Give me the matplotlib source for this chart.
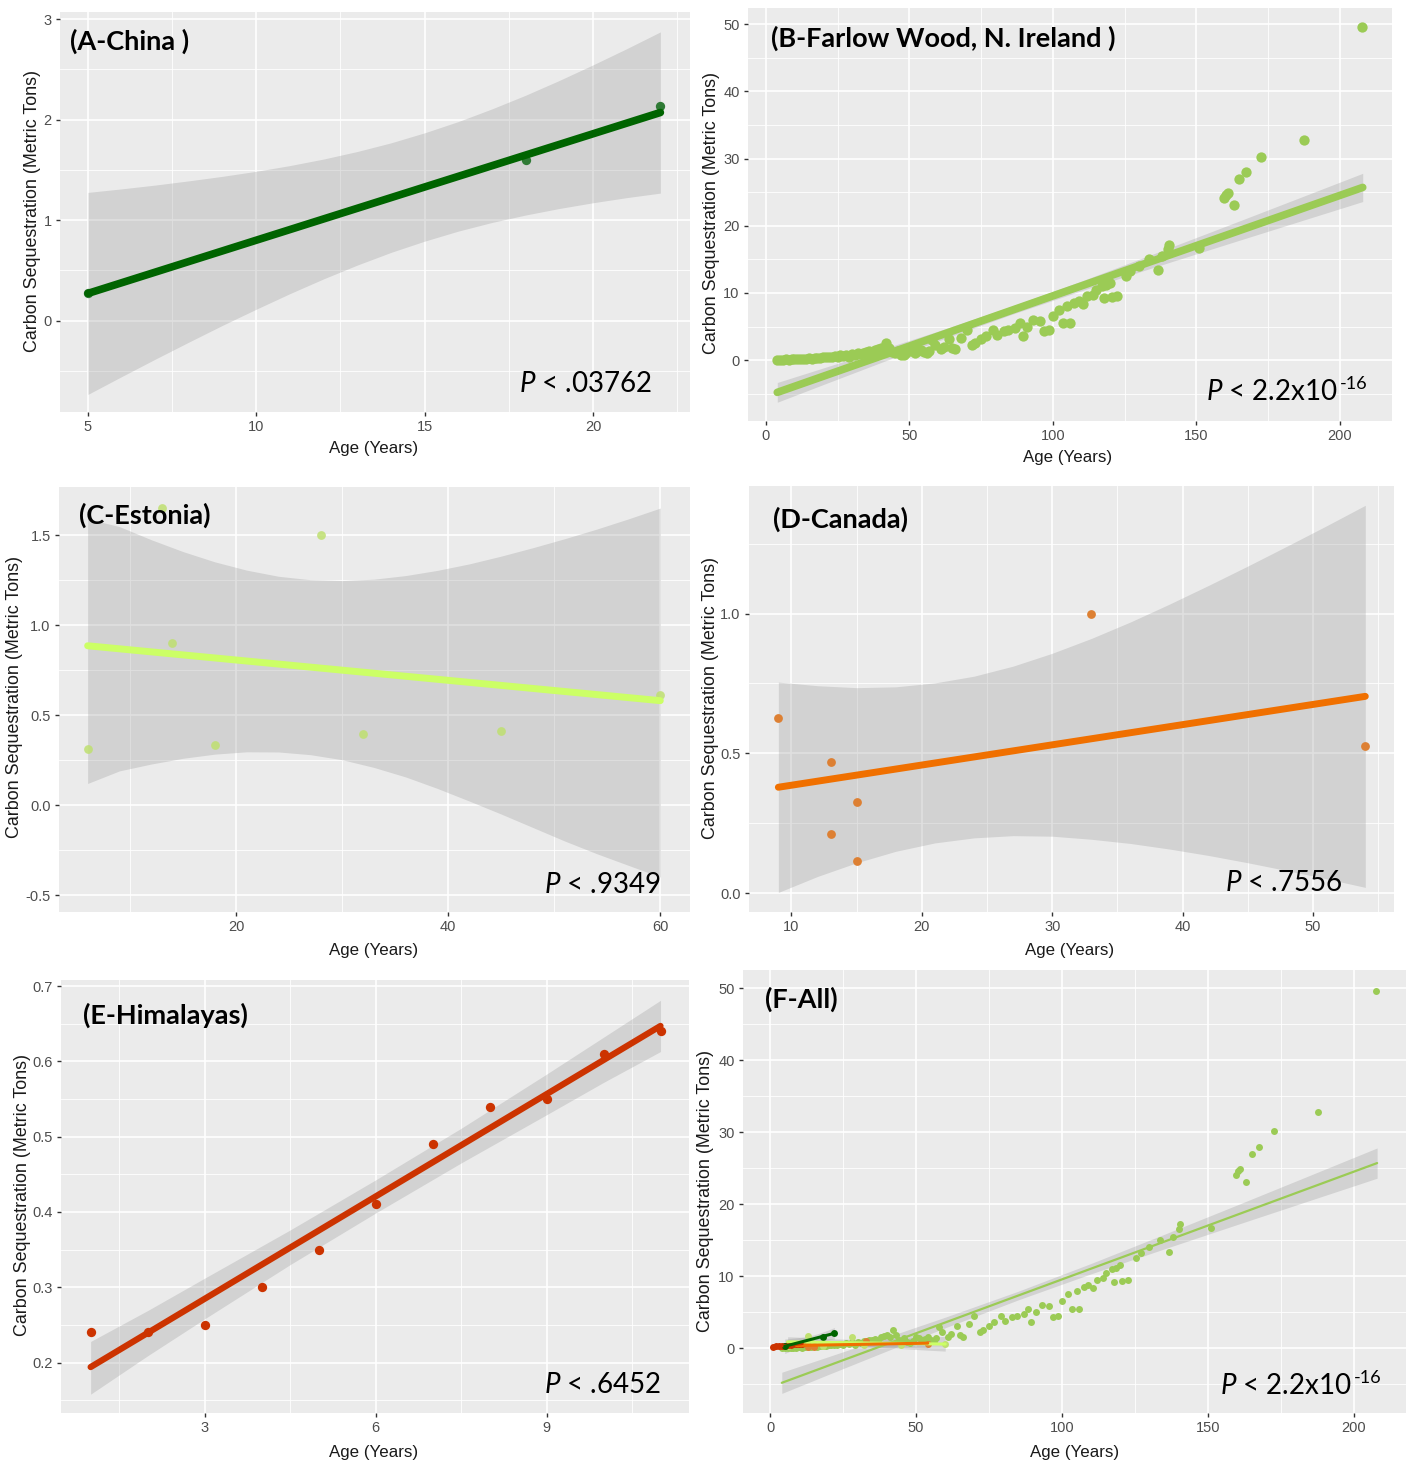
import numpy as np
import matplotlib
matplotlib.use('Agg')
import matplotlib.pyplot as plt

plt.rcParams['mathtext.fontset'] = 'custom'
plt.rcParams['mathtext.rm'] = 'Lato'
plt.rcParams['mathtext.it'] = 'Lato:italic'

W, H = 1411, 1464
NARROW = ['Liberation Sans Narrow', 'Liberation Sans', 'DejaVu Sans']
BG = '#EBEBEB'
RIB = '#999999'

# ---------------- data ----------------
# (A) China
china_x = [5, 18, 22]
china_y = [0.27, 1.60, 2.13]
china_fit_x = [5, 22]
china_fit_y = [0.27, 2.07]
china_rib_x = [5, 6, 7, 8, 9, 10, 11, 12, 13, 14, 15, 16, 17, 18, 19, 20, 21, 22]
china_rib_lo = [-0.735, -0.558, -0.384, -0.214, -0.047, 0.113, 0.268, 0.415, 0.552,
                0.678, 0.790, 0.890, 0.976, 1.050, 1.115, 1.172, 1.223, 1.268]
china_rib_hi = [1.275, 1.310, 1.348, 1.390, 1.435, 1.485, 1.542, 1.607, 1.682,
                1.768, 1.868, 1.980, 2.106, 2.242, 2.389, 2.544, 2.705, 2.872]

# (B) Farlow Wood, N. Ireland
farlow_x = [4, 5, 6, 7, 8, 9, 10, 11, 12, 13, 14, 15, 16, 17, 18, 19, 20, 21,
            22, 23, 24, 25, 26, 27, 28, 29, 30, 31, 32,
            33, 34, 35, 36, 37, 38, 39, 40,
            41, 42, 43, 44, 45, 46, 47, 48,
            49, 50, 51, 52, 53, 54, 55, 56, 57, 58, 59,
            61, 62, 64, 65, 66, 68, 70, 72, 73, 75, 76.6, 79, 80.5, 83, 84.5,
            87, 88.5, 89.5, 91, 93, 95.5, 97, 98.7, 100, 102, 103.5, 106, 105,
            107.5, 109, 110.5, 112, 114, 115, 117, 118.5, 120, 118, 120.5, 122.5,
            125.5, 127, 130, 133.5, 136.6, 138, 140, 140.6, 151, 159.5, 160.5,
            161, 163, 165, 167.5, 172.7, 187.7, 207.7]
farlow_y = [0.0, 0.05, 0.0, 0.1, 0.05, 0.1, 0.15, 0.1, 0.2, 0.15, 0.2, 0.25, 0.2, 0.3, 0.35, 0.3, 0.4, 0.45,
            0.5, 0.4, 0.6, 0.5, 0.7, 0.6, 0.8, 0.5, 0.9, 0.7, 1.0,
            0.9, 1.1, 1.2, 1.3, 1.0, 1.5, 1.7, 1.8,
            1.5, 2.6, 1.8, 1.2, 1.0, 1.4, 0.8, 0.7,
            1.0, 1.6, 1.4, 1.1, 1.3, 1.5, 1.2, 1.0, 1.4, 3.0, 2.2,
            1.6, 2.0, 3.1, 1.8, 1.6, 3.3, 4.5, 2.3, 2.6, 3.1, 3.6, 4.5, 3.8, 4.3, 4.5,
            4.8, 5.5, 3.6, 5.0, 6.0, 5.8, 4.3, 4.5, 6.5, 7.5, 5.5, 5.5, 8.0,
            8.5, 8.8, 8.3, 9.5, 9.7, 10.5, 11.0, 11.2, 11.5, 9.2, 9.4, 9.5,
            12.5, 13.2, 14.0, 15.0, 13.4, 15.5, 16.5, 17.2, 16.7, 24.1, 24.6,
            24.9, 23.1, 27.0, 28.0, 30.2, 32.8, 49.6]
farlow_fit_x = [4, 208]
farlow_fit_y = [-4.8, 25.7]
farlow_rib_x = [4, 20, 40, 60, 85, 110, 135, 160, 185, 208]
farlow_rib_lo = [-6.27, -3.64, -0.38, 2.84, 6.71, 10.33, 13.78, 17.16, 20.52, 23.6]
farlow_rib_hi = [-3.33, -1.17, 1.54, 4.31, 7.91, 11.77, 15.80, 19.88, 24.00, 27.8]

# (C) Estonia
estonia_x = [6, 13, 14, 18, 28, 32, 45, 60]
estonia_y = [0.31, 1.65, 0.90, 0.336, 1.50, 0.395, 0.41, 0.61]
estonia_fit_x = [6, 60]
estonia_fit_y = [0.885, 0.58]
estonia_rib_x = [6, 9, 12, 15, 18, 21, 24, 27, 30, 33, 36, 39, 42, 45, 48, 51, 54, 57, 60]
estonia_rib_lo = [0.12, 0.19, 0.228, 0.26, 0.283, 0.296, 0.295, 0.28, 0.252, 0.209,
                  0.156, 0.092, 0.022, -0.05, -0.125, -0.2, -0.27, -0.335, -0.40]
estonia_rib_hi = [1.59, 1.547, 1.474, 1.408, 1.351, 1.305, 1.271, 1.252, 1.247, 1.255,
                  1.275, 1.304, 1.34, 1.383, 1.43, 1.48, 1.533, 1.59, 1.65]

# (D) Canada
canada_x = [9, 13, 13, 15, 15, 33, 54]
canada_y = [0.626, 0.471, 0.212, 0.325, 0.117, 1.0, 0.527]
canada_fit_x = [9, 54]
canada_fit_y = [0.379, 0.704]
canada_rib_x = [9, 12, 15, 18, 21, 24, 27, 30, 33, 36, 39, 42, 45, 48, 51, 54]
canada_rib_lo = [0.003, 0.060, 0.109, 0.150, 0.180, 0.198, 0.206, 0.204, 0.193, 0.178,
                 0.158, 0.135, 0.109, 0.081, 0.052, 0.021]
canada_rib_hi = [0.755, 0.742, 0.735, 0.738, 0.752, 0.776, 0.812, 0.858, 0.911, 0.970,
                 1.034, 1.101, 1.170, 1.241, 1.313, 1.387]

# (E) Himalayas
himal_x = [1, 2, 3, 4, 5, 6, 7, 8, 9, 10, 11]
himal_y = [0.24, 0.241, 0.25, 0.30, 0.35, 0.41, 0.49, 0.54, 0.55, 0.61, 0.64]
himal_fit_x = [1, 11]
himal_fit_y = [0.194, 0.647]
himal_rib_x = [1, 2, 3, 4.5, 6, 7.5, 9, 10, 11]
himal_rib_lo = [0.158, 0.209, 0.258, 0.330, 0.3985, 0.465, 0.529, 0.572, 0.613]
himal_rib_hi = [0.228, 0.269, 0.312, 0.376, 0.4425, 0.511, 0.583, 0.632, 0.681]

# colours
C_CHINA, C_CHINA_PT = '#006400', '#2F7A35'
C_FARLOW = '#9BCB55'
C_EST, C_EST_PT = '#CCFF66', '#BFE070'
C_CAN, C_CAN_PT = '#F07000', '#DD8033'
C_HIM = '#CC3300'


def px2fig(x, y):
    return x / W, 1 - y / H


def panel(box, xlim, ylim, xmaj, xlab, xminor, ymaj, ylab, yminor):
    l, t, r, b = box
    ax = fig.add_axes([l / W, 1 - b / H, (r - l) / W, (b - t) / H])
    ax.set_facecolor(BG)
    ax.set_xlim(xlim)
    ax.set_ylim(ylim)
    ax.set_xticks(xmaj)
    ax.set_xticklabels(xlab, family=NARROW)
    ax.set_yticks(ymaj)
    ax.set_yticklabels(ylab, family=NARROW)
    ax.set_xticks(xminor, minor=True)
    ax.set_yticks(yminor, minor=True)
    ax.grid(which='major', color='white', linewidth=1.2)
    ax.grid(which='minor', color='white', linewidth=0.6)
    ax.set_axisbelow(True)
    for s in ax.spines.values():
        s.set_visible(False)
    ax.tick_params(which='major', length=3, width=1, color='#333333',
                   labelsize=10.5, labelcolor='#4D4D4D', pad=3)
    ax.tick_params(which='minor', length=0)
    return ax


def labels(title, tpos, ylpos, xlpos):
    fig.text(*px2fig(*tpos), title, fontsize=19.5, fontweight='bold', family='Lato',
             ha='left', va='center')
    fig.text(*px2fig(*ylpos), 'Carbon Sequestration (Metric Tons)', rotation=90,
             fontsize=12.9, family=['Liberation Sans', 'DejaVu Sans'], color='#1A1A1A',
             ha='center', va='center')
    fig.text(*px2fig(*xlpos), 'Age (Years)', fontsize=12.2, family=NARROW,
             color='#1A1A1A', ha='center', va='center')


def pval(txt, pos):
    fig.text(*px2fig(*pos), r'$\mathit{P}$ < ' + txt, fontsize=20, family='Lato',
             ha='right', va='center')


def pval_tiny(pos):
    # "P < 2.2x10" with the exponent "-16" set as a raised smaller text
    x, y = pos
    fig.text(*px2fig(x, y), r'$\mathit{P}$ < 2.2x10', fontsize=20, family='Lato',
             ha='right', va='center')
    fig.text(*px2fig(x + 2, y - 8), '-16', fontsize=13, family='Lato',
             ha='left', va='center')


def smooth(ax, fx, fy, rx, rlo, rhi, col, lw, alpha=0.3):
    ax.fill_between(rx, rlo, rhi, color=RIB, alpha=alpha, linewidth=0, zorder=2)
    ax.plot(fx, fy, color=col, linewidth=lw, solid_capstyle='round', zorder=4)


fig = plt.figure(figsize=(W / 100, H / 100), dpi=100)

# ---------- A ----------
ax = panel((60, 12, 690, 412), (4.17, 22.88), (-0.91, 3.07),
           [5, 10, 15, 20], ['5', '10', '15', '20'], [7.5, 12.5, 17.5, 22.5],
           [0, 1, 2, 3], ['0', '1', '2', '3'], [-0.5, 0.5, 1.5, 2.5])
smooth(ax, china_fit_x, china_fit_y, china_rib_x, china_rib_lo, china_rib_hi, C_CHINA, 5.5)
ax.scatter(china_x, china_y, s=45, color=C_CHINA_PT, zorder=3, linewidths=0)
labels('(A-China )', (70, 41), (33, 211), (374, 448))
pval('.03762', (652, 384))

# ---------- B ----------
ax = panel((748, 8, 1392, 421), (-6.2, 218.2), (-9.06, 52.4),
           [0, 50, 100, 150, 200], ['0', '50', '100', '150', '200'], [25, 75, 125, 175],
           [0, 10, 20, 30, 40, 50], ['0', '10', '20', '30', '40', '50'],
           [-5, 5, 15, 25, 35, 45])
ax.scatter(farlow_x, farlow_y, s=55, color=C_FARLOW, zorder=3, linewidths=0)
smooth(ax, farlow_fit_x, farlow_fit_y, farlow_rib_x, farlow_rib_lo, farlow_rib_hi, C_FARLOW, 5.5)
labels('(B-Farlow Wood, N. Ireland )', (771, 38), (712, 213), (1068, 457))
pval_tiny((1338, 392))

# ---------- C ----------
ax = panel((59, 487, 690, 912), (3.3, 62.8), (-0.594, 1.767),
           [20, 40, 60], ['20', '40', '60'], [10, 30, 50],
           [-0.5, 0.0, 0.5, 1.0, 1.5], ['-0.5', '0.0', '0.5', '1.0', '1.5'],
           [-0.25, 0.25, 0.75, 1.25])
smooth(ax, estonia_fit_x, estonia_fit_y, estonia_rib_x, estonia_rib_lo, estonia_rib_hi, C_EST, 5)
ax.scatter(estonia_x, estonia_y, s=40, color=C_EST_PT, alpha=0.85, zorder=3, linewidths=0)
labels('(C-Estonia)', (79, 515), (15, 697), (374, 951))
pval('.9349', (661, 885))

# ---------- D ----------
ax = panel((749, 486, 1394, 912), (6.75, 56.2), (-0.067, 1.456),
           [10, 20, 30, 40, 50], ['10', '20', '30', '40', '50'], [15, 25, 35, 45, 55],
           [0.0, 0.5, 1.0], ['0.0', '0.5', '1.0'], [0.25, 0.75, 1.25])
smooth(ax, canada_fit_x, canada_fit_y, canada_rib_x, canada_rib_lo, canada_rib_hi, C_CAN, 5)
ax.scatter(canada_x, canada_y, s=40, color=C_CAN_PT, zorder=3, linewidths=0)
labels('(D-Canada)', (773, 519), (710, 698), (1070, 951))
pval('.7556', (1343, 883))

# ---------- E ----------
ax = panel((61, 980, 689, 1413), (0.48, 11.5), (0.133, 0.708),
           [3, 6, 9], ['3', '6', '9'], [1.5, 4.5, 7.5, 10.5],
           [0.2, 0.3, 0.4, 0.5, 0.6, 0.7], ['0.2', '0.3', '0.4', '0.5', '0.6', '0.7'],
           [0.15, 0.25, 0.35, 0.45, 0.55, 0.65])
ax.scatter(himal_x, himal_y, s=45, color=C_HIM, zorder=3, linewidths=0)
smooth(ax, himal_fit_x, himal_fit_y, himal_rib_x, himal_rib_lo, himal_rib_hi, C_HIM, 4.5)
labels('(E-Himalayas)', (83, 1015), (23, 1195), (374, 1452))
pval('.6452', (661, 1385))

# ---------- F ----------
ax = panel((743, 970, 1406, 1413), (-9.3, 217.9), (-8.99, 52.5),
           [0, 50, 100, 150, 200], ['0', '50', '100', '150', '200'], [25, 75, 125, 175],
           [0, 10, 20, 30, 40, 50], ['0', '10', '20', '30', '40', '50'],
           [-5, 5, 15, 25, 35, 45])
ax.scatter(farlow_x, farlow_y, s=25, color=C_FARLOW, zorder=3, linewidths=0)
ax.scatter(estonia_x, estonia_y, s=25, color=C_EST_PT, zorder=3, linewidths=0)
ax.scatter(canada_x, canada_y, s=25, color=C_CAN_PT, zorder=3, linewidths=0)
ax.scatter(himal_x, himal_y, s=25, color=C_HIM, zorder=3, linewidths=0)
ax.scatter(china_x, china_y, s=25, color=C_CHINA, zorder=3, linewidths=0)
smooth(ax, farlow_fit_x, farlow_fit_y, farlow_rib_x, farlow_rib_lo, farlow_rib_hi, C_FARLOW, 1.6)
smooth(ax, estonia_fit_x, estonia_fit_y, estonia_rib_x, estonia_rib_lo, estonia_rib_hi, C_EST, 2.2)
smooth(ax, canada_fit_x, canada_fit_y, canada_rib_x, canada_rib_lo, canada_rib_hi, C_CAN, 2.2)
smooth(ax, himal_fit_x, himal_fit_y, himal_rib_x, himal_rib_lo, himal_rib_hi, C_HIM, 2.2)
smooth(ax, china_fit_x, china_fit_y, china_rib_x, china_rib_lo, china_rib_hi, C_CHINA, 2.2)
labels('(F-All)', (765, 999), (706, 1191), (1075, 1453))
pval_tiny((1352, 1386))

fig.savefig('out.png', dpi=100, facecolor='white')
